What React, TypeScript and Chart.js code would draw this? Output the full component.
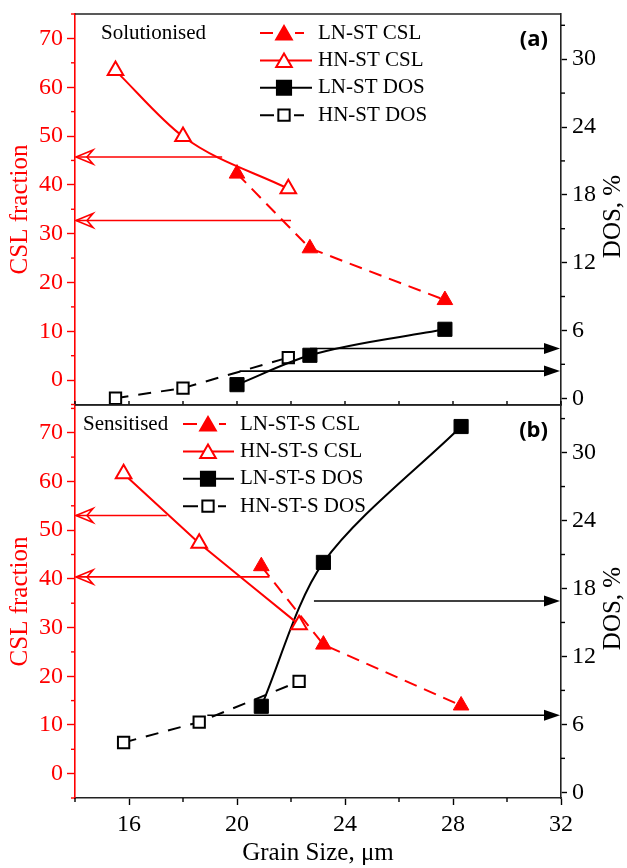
import React, { useEffect, useRef } from 'react';
import { Chart, registerables } from 'chart.js';

Chart.register(...registerables);

const RED = '#ff0000';
const BLACK = '#000000';
const SERIF = "'Liberation Serif', 'Times New Roman', serif";
const SANS = "'Open Sans', 'Liberation Sans', sans-serif";

// ---- axes ----
const grainMin = 14;
const grainMax = 32;
const grainTicks = [16, 20, 24, 28, 32];
const grainMinorTicks = [14, 18, 22, 26, 30];
const cslTicks = [0, 10, 20, 30, 40, 50, 60, 70];
const cslMinorTicks = [-5, 5, 15, 25, 35, 45, 55, 65, 75];
const dosTicks = [0, 6, 12, 18, 24, 30];
const dosMinorTicks = [3, 9, 15, 21, 27, 33];

// ---- (a) Solutionised ----
const grainHN_a = [15.5, 18.0, 21.9];
const cslHN_a = [63.4, 49.9, 39.2];
const dosHN_a = [0.0, 0.9, 3.6];
const grainLN_a = [20.0, 22.7, 27.7];
const cslLN_a = [42.3, 27.0, 16.4];
const dosLN_a = [1.2, 3.8, 6.1];
const labels_a = ['LN-ST CSL', 'HN-ST CSL', 'LN-ST DOS', 'HN-ST DOS'];
const cslArrowStart_a = [19.45, 22.0];
const cslArrowValue_a = [45.7, 32.7];
const dosArrowStart_a = [22.7, 20.1];
const dosArrowValue_a = [4.4, 2.4];

// ---- (b) Sensitised ----
const grainHN_b = [15.8, 18.6, 22.3];
const cslHN_b = [61.6, 47.3, 30.6];
const dosHN_b = [4.4, 6.2, 9.8];
const grainLN_b = [20.9, 23.2, 28.3];
const cslLN_b = [42.6, 26.5, 14.0];
const dosLN_b = [7.6, 20.3, 32.3];
const labels_b = ['LN-ST-S CSL', 'HN-ST-S CSL', 'LN-ST-S DOS', 'HN-ST-S DOS'];
const cslArrowStart_b = [17.4, 21.2];
const cslArrowValue_b = [53.0, 40.4];
const dosArrowStart_b = [22.85, 18.9];
const dosArrowValue_b = [16.9, 6.8];

type Curve = { mode: string; tension: number };

type Panel = {
  heading: string;
  tag: string;
  labels: string[];
  grainHN: number[]; cslHN: number[]; dosHN: number[];
  grainLN: number[]; cslLN: number[]; dosLN: number[];
  cslArrowStart: number[]; cslArrowValue: number[];
  dosArrowStart: number[]; dosArrowValue: number[];
  cslRange: [number, number];
  dosRange: [number, number];
  showX: boolean;
  hnCsl: Curve;
  lnDos: Curve;
  headingX: number;
  legendLine: [number, number, number, number];
};

const panelA: Panel = {
  heading: 'Solutionised', tag: '(a)', labels: labels_a,
  grainHN: grainHN_a, cslHN: cslHN_a, dosHN: dosHN_a,
  grainLN: grainLN_a, cslLN: cslLN_a, dosLN: dosLN_a,
  cslArrowStart: cslArrowStart_a, cslArrowValue: cslArrowValue_a,
  dosArrowStart: dosArrowStart_a, dosArrowValue: dosArrowValue_a,
  cslRange: [-5.1, 75], dosRange: [-0.6, 34],
  showX: false,
  hnCsl: { mode: 'monotone', tension: 0 },
  lnDos: { mode: 'monotone', tension: 0 },
  headingX: 101, legendLine: [260, 284, 312, 318],
};

const panelB: Panel = {
  heading: 'Sensitised', tag: '(b)', labels: labels_b,
  grainHN: grainHN_b, cslHN: cslHN_b, dosHN: dosHN_b,
  grainLN: grainLN_b, cslLN: cslLN_b, dosLN: dosLN_b,
  cslArrowStart: cslArrowStart_b, cslArrowValue: cslArrowValue_b,
  dosArrowStart: dosArrowStart_b, dosArrowValue: dosArrowValue_b,
  cslRange: [-5, 75.7], dosRange: [-0.5, 34.2],
  showX: true,
  hnCsl: { mode: 'default', tension: 0.05 },
  lnDos: { mode: 'default', tension: 0.3 },
  headingX: 83, legendLine: [183, 208, 234, 240],
};

function pts(xs: number[], ys: number[]) {
  return xs.map((x, i) => ({ x, y: ys[i] }));
}

function drawMarker(ctx: CanvasRenderingContext2D, kind: string, filled: boolean, x: number, y: number, r: number, color: string) {
  ctx.save();
  ctx.beginPath();
  if (kind === 'triangle') {
    for (let k = 0; k < 3; k++) {
      const a = k * (2 * Math.PI / 3);
      const px = x + Math.sin(a) * r;
      const py = y - Math.cos(a) * r;
      if (k === 0) ctx.moveTo(px, py); else ctx.lineTo(px, py);
    }
    ctx.closePath();
  } else {
    const s = Math.SQRT1_2 * r;
    ctx.rect(x - s, y - s, 2 * s, 2 * s);
  }
  ctx.fillStyle = filled ? color : '#ffffff';
  ctx.fill();
  ctx.lineWidth = 2;
  ctx.strokeStyle = color;
  ctx.stroke();
  ctx.restore();
}

function decorPlugin(p: Panel) {
  return {
    id: 'decor',
    beforeDatasetsDraw(chart: any) {
      const ctx: CanvasRenderingContext2D = chart.ctx;
      const x = chart.scales.x;
      const yL = chart.scales.yL;
      const yR = chart.scales.yR;
      const area = chart.chartArea;
      ctx.save();
      ctx.lineWidth = 1.6;
      p.cslArrowStart.forEach((g, i) => {
        const y = yL.getPixelForValue(p.cslArrowValue[i]);
        const xs = x.getPixelForValue(g);
        const tip = area.left + 1;
        ctx.strokeStyle = RED;
        ctx.beginPath();
        ctx.moveTo(xs, y);
        ctx.lineTo(tip, y);
        ctx.stroke();
        ctx.beginPath();
        ctx.moveTo(tip, y);
        ctx.lineTo(tip + 17, y - 7);
        ctx.lineTo(tip + 11, y);
        ctx.lineTo(tip + 17, y + 7);
        ctx.closePath();
        ctx.stroke();
      });
      p.dosArrowStart.forEach((g, i) => {
        const y = yR.getPixelForValue(p.dosArrowValue[i]);
        const xs = x.getPixelForValue(g);
        const tip = area.right - 1;
        ctx.strokeStyle = BLACK;
        ctx.beginPath();
        ctx.moveTo(xs, y);
        ctx.lineTo(tip - 14, y);
        ctx.stroke();
        ctx.fillStyle = BLACK;
        ctx.beginPath();
        ctx.moveTo(tip, y);
        ctx.lineTo(tip - 16, y - 5.5);
        ctx.lineTo(tip - 16, y + 5.5);
        ctx.closePath();
        ctx.fill();
      });
      ctx.restore();
    },
    afterDraw(chart: any) {
      const ctx: CanvasRenderingContext2D = chart.ctx;
      const x = chart.scales.x;
      const yL = chart.scales.yL;
      const yR = chart.scales.yR;
      const area = chart.chartArea;
      ctx.save();
      ctx.strokeStyle = '#222';
      ctx.lineWidth = 1.6;
      ctx.beginPath();
      ctx.moveTo(area.left, area.top);
      ctx.lineTo(area.right, area.top);
      ctx.stroke();
      ctx.lineWidth = 1.4;
      ctx.strokeStyle = RED;
      cslMinorTicks.forEach((v) => {
        const y = yL.getPixelForValue(v);
        if (y < area.top - 1 || y > area.bottom + 1) return;
        ctx.beginPath();
        ctx.moveTo(area.left - 4, y);
        ctx.lineTo(area.left, y);
        ctx.stroke();
      });
      ctx.strokeStyle = BLACK;
      dosMinorTicks.forEach((v) => {
        const y = yR.getPixelForValue(v);
        if (y < area.top - 1 || y > area.bottom + 1) return;
        ctx.beginPath();
        ctx.moveTo(area.right, y);
        ctx.lineTo(area.right + 4, y);
        ctx.stroke();
      });
      if (p.showX) {
        grainMinorTicks.forEach((v) => {
          const px = x.getPixelForValue(v);
          ctx.beginPath();
          ctx.moveTo(px, area.bottom);
          ctx.lineTo(px, area.bottom + 4);
          ctx.stroke();
        });
      } else {
        [...grainTicks, ...grainMinorTicks].forEach((v) => {
          const px = x.getPixelForValue(v);
          ctx.beginPath();
          ctx.moveTo(px, area.bottom);
          ctx.lineTo(px, area.bottom - 4);
          ctx.stroke();
        });
      }
      ctx.save();
      ctx.translate(613, (area.top + area.bottom) / 2 + 7);
      ctx.rotate(-Math.PI / 2);
      ctx.fillStyle = BLACK;
      ctx.font = `25px ${SERIF}`;
      ctx.textAlign = 'center';
      ctx.textBaseline = 'middle';
      ctx.fillText('DOS, %', 0, 0);
      ctx.restore();
      ctx.fillStyle = BLACK;
      ctx.font = `21px ${SERIF}`;
      ctx.textAlign = 'left';
      ctx.textBaseline = 'middle';
      ctx.fillText(p.heading, p.headingX, area.top + 19);
      ctx.font = `bold 22px ${SANS}`;
      ctx.textAlign = 'right';
      ctx.fillText(p.tag, area.right - 13, area.top + 26);
      const [ls, lm, le, lt] = p.legendLine;
      const styles = [
        { color: RED, kind: 'triangle', filled: true, dashed: true, r: 9 },
        { color: RED, kind: 'triangle', filled: false, dashed: false, r: 9 },
        { color: BLACK, kind: 'rect', filled: true, dashed: false, r: 10 },
        { color: BLACK, kind: 'rect', filled: false, dashed: true, r: 8 },
      ];
      styles.forEach((s, i) => {
        const y = area.top + 19 + i * 27.4;
        ctx.strokeStyle = s.color;
        ctx.lineWidth = 2;
        ctx.beginPath();
        if (s.dashed) {
          ctx.moveTo(ls, y); ctx.lineTo(lm - s.r - 2, y);
          ctx.moveTo(lm + s.r + 2, y); ctx.lineTo(le - 8, y);
        } else {
          ctx.moveTo(ls, y); ctx.lineTo(le, y);
        }
        ctx.stroke();
        drawMarker(ctx, s.kind, s.filled, lm, y + (s.kind === 'triangle' ? 2 : 0), s.r, s.color);
        ctx.fillStyle = BLACK;
        ctx.font = `21px ${SERIF}`;
        ctx.textAlign = 'left';
        ctx.textBaseline = 'middle';
        ctx.fillText(p.labels[i], lt, y);
      });
      ctx.restore();
    },
  };
}

function noPad(s: any) {
  s.paddingTop = 0;
  s.paddingBottom = 0;
  s.paddingLeft = 0;
  s.paddingRight = 0;
}

function buildConfig(p: Panel): any {
  const xHeight = p.showX ? 70 : 15;
  const padTop = p.showX ? 15 : 14;
  return {
    type: 'scatter',
    data: {
      datasets: [
        {
          label: p.labels[0], data: pts(p.grainLN, p.cslLN), yAxisID: 'yL', showLine: true,
          borderColor: RED, borderWidth: 2, borderDash: [13, 8], tension: 0,
          pointStyle: 'triangle', pointRadius: 9, pointBackgroundColor: RED, pointBorderColor: RED, pointBorderWidth: 1,
        },
        {
          label: p.labels[1], data: pts(p.grainHN, p.cslHN), yAxisID: 'yL', showLine: true,
          borderColor: RED, borderWidth: 2,
          cubicInterpolationMode: p.hnCsl.mode, tension: p.hnCsl.tension,
          pointStyle: 'triangle', pointRadius: 9, pointBackgroundColor: '#ffffff', pointBorderColor: RED, pointBorderWidth: 2,
        },
        {
          label: p.labels[2], data: pts(p.grainLN, p.dosLN), yAxisID: 'yR', showLine: true,
          borderColor: BLACK, borderWidth: 2,
          cubicInterpolationMode: p.lnDos.mode, tension: p.lnDos.tension,
          pointStyle: 'rect', pointRadius: 10, pointBackgroundColor: BLACK, pointBorderColor: BLACK, pointBorderWidth: 1,
        },
        {
          label: p.labels[3], data: pts(p.grainHN, p.dosHN), yAxisID: 'yR', showLine: true,
          borderColor: BLACK, borderWidth: 2, borderDash: [13, 10], tension: 0,
          pointStyle: 'rect', pointRadius: 8, pointBackgroundColor: '#ffffff', pointBorderColor: BLACK, pointBorderWidth: 2,
        },
      ].map((d) => ({ ...d, clip: false })),
    },
    options: {
      responsive: false,
      animation: false,
      devicePixelRatio: 1,
      layout: { padding: { top: padTop, left: 0, right: 0, bottom: 0 } },
      plugins: { legend: { display: false }, tooltip: { enabled: false } },
      scales: {
        x: {
          type: 'linear', position: 'bottom', min: grainMin, max: grainMax,
          afterBuildTicks: (s: any) => { s.ticks = grainTicks.map((v) => ({ value: v })); },
          afterFit: (s: any) => { s.height = xHeight; noPad(s); },
          ticks: { display: p.showX, color: BLACK, font: { family: SERIF, size: 24 }, padding: 5, maxRotation: 0 },
          grid: { drawOnChartArea: false, drawTicks: p.showX, tickLength: 7, tickColor: BLACK, tickWidth: 1.4 },
          border: { color: '#222', width: 1.6 },
          title: { display: p.showX, text: 'Grain Size, μm', color: BLACK, font: { family: SERIF, size: 25 }, padding: { top: 0, bottom: 0 } },
        },
        yL: {
          type: 'linear', position: 'left', min: p.cslRange[0], max: p.cslRange[1],
          afterBuildTicks: (s: any) => { s.ticks = cslTicks.map((v) => ({ value: v })); },
          afterFit: (s: any) => { s.width = 75; noPad(s); },
          ticks: { color: RED, font: { family: SERIF, size: 24 }, padding: 4 },
          grid: { drawOnChartArea: false, drawTicks: true, tickLength: 8, tickColor: RED, tickWidth: 1.4 },
          border: { color: RED, width: 1.6 },
          title: { display: true, text: 'CSL fraction', color: RED, font: { family: SERIF, size: 25 }, padding: { top: 5, bottom: 0 } },
        },
        yR: {
          type: 'linear', position: 'right', min: p.dosRange[0], max: p.dosRange[1],
          afterBuildTicks: (s: any) => { s.ticks = dosTicks.map((v) => ({ value: v })); },
          afterFit: (s: any) => { s.width = 66; noPad(s); },
          ticks: { color: BLACK, font: { family: SERIF, size: 24 }, padding: 5 },
          grid: { drawOnChartArea: false, drawTicks: true, tickLength: 6, tickColor: BLACK, tickWidth: 1.4 },
          border: { color: '#222', width: 1.6 },
        },
      },
    },
    plugins: [decorPlugin(p)],
  };
}

function PanelChart({ panel, top, height }: { panel: Panel; top: number; height: number }) {
  const ref = useRef<HTMLCanvasElement>(null);
  useEffect(() => {
    const chart = new Chart(ref.current as HTMLCanvasElement, buildConfig(panel));
    return () => chart.destroy();
  }, [panel]);
  return (
    <canvas
      ref={ref}
      width={627}
      height={height}
      style={{ position: 'absolute', left: 0, top, width: 627, height }}
    />
  );
}

export default function App() {
  return (
    <div style={{ position: 'absolute', left: 0, top: 0, width: 627, height: 868, background: '#ffffff' }}>
      <PanelChart panel={panelA} top={0} height={420} />
      <PanelChart panel={panelB} top={390} height={478} />
    </div>
  );
}
